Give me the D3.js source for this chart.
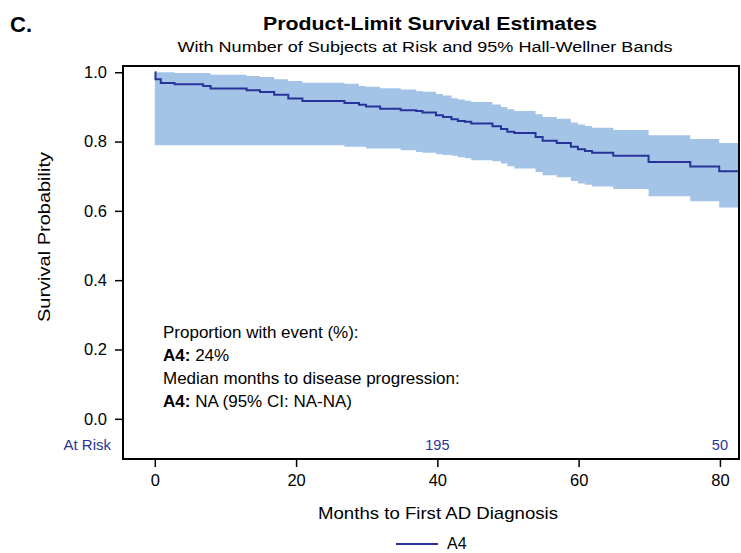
<!DOCTYPE html>
<html><head><meta charset="utf-8">
<script src="https://cdn.jsdelivr.net/npm/d3@7"></script>
<style>body{margin:0;background:#fff}svg text{font-family:"Liberation Sans",Arial,sans-serif}</style>
</head><body><svg id="c" width="741" height="553"></svg>
<script>
const months = [0, 0.1, 0.85, 2.8, 6.85, 7.9, 13.0, 14.9, 16.9, 18.9, 20.9, 26.85, 28.9, 29.9, 31.9, 34.8, 37.0, 37.9, 39.8, 40.8, 42.0, 42.9, 43.9, 44.8, 47.8, 49.0, 49.9, 50.9, 53.9, 54.9, 56.9, 58.9, 59.9, 60.9, 61.9, 64.9, 69.9, 75.8, 79.9];
const survival = [1.0, 0.980, 0.969, 0.965, 0.960, 0.953, 0.948, 0.943, 0.935, 0.924, 0.917, 0.911, 0.906, 0.901, 0.895, 0.890, 0.888, 0.884, 0.876, 0.871, 0.864, 0.859, 0.857, 0.852, 0.844, 0.836, 0.828, 0.825, 0.813, 0.802, 0.796, 0.785, 0.778, 0.773, 0.768, 0.759, 0.741, 0.728, 0.714];
const upperBand = [1.0, 1.0, 1.0, 0.998, 0.998, 0.993, 0.989, 0.986, 0.980, 0.975, 0.970, 0.967, 0.960, 0.958, 0.954, 0.950, 0.946, 0.944, 0.937, 0.933, 0.925, 0.921, 0.918, 0.914, 0.907, 0.900, 0.893, 0.888, 0.879, 0.871, 0.866, 0.855, 0.849, 0.845, 0.840, 0.833, 0.818, 0.807, 0.796];
const lowerBand = [0.789, 0.789, 0.789, 0.789, 0.789, 0.789, 0.789, 0.789, 0.789, 0.789, 0.789, 0.785, 0.785, 0.780, 0.780, 0.775, 0.770, 0.768, 0.763, 0.761, 0.759, 0.755, 0.752, 0.746, 0.743, 0.737, 0.729, 0.722, 0.712, 0.703, 0.697, 0.686, 0.679, 0.675, 0.670, 0.663, 0.642, 0.628, 0.610];
const xTicks = [0, 20, 40, 60, 80];
const yTicks = [0.0, 0.2, 0.4, 0.6, 0.8, 1.0];
const atRiskMonths = [40, 80];
const atRiskCounts = [195, 50];
const seriesName = "A4";

const svg = d3.select("#c");
const L = 123, R = 739, T = 66, B = 459;
const x = d3.scaleLinear().domain([-4.5, 82.7]).range([L, R]);
const y = d3.scaleLinear().domain([-0.116, 1.018]).range([B, T]);
const navy = "#28339a", bandFill = "#a3c4e7";

const pts = months.map((m, i) => ({m, s: survival[i], u: upperBand[i], l: lowerBand[i]}));
const last = pts[pts.length - 1];
pts.push({m: x.domain()[1], s: last.s, u: last.u, l: last.l});

svg.append("clipPath").attr("id", "clip").append("rect")
  .attr("x", L).attr("y", T).attr("width", R - L).attr("height", B - T);
const g = svg.append("g").attr("clip-path", "url(#clip)");
g.append("path").datum(pts)
  .attr("d", d3.area().curve(d3.curveStepAfter).x(d => x(d.m)).y0(d => y(d.l)).y1(d => y(d.u)))
  .attr("fill", bandFill);
g.append("path").datum(pts)
  .attr("d", d3.line().curve(d3.curveStepAfter).x(d => x(d.m)).y(d => y(d.s)))
  .attr("fill", "none").attr("stroke", navy).attr("stroke-width", 2);

// frame
svg.append("rect").attr("x", L).attr("y", T).attr("width", R - L).attr("height", B - T)
  .attr("fill", "none").attr("stroke", "#000").attr("stroke-width", 2);

// axes
const yAxis = svg.append("g").attr("transform", `translate(${L},0)`)
  .call(d3.axisLeft(y).tickValues(yTicks).tickFormat(d3.format(".1f")).tickSize(8).tickPadding(8));
const xAxis = svg.append("g").attr("transform", `translate(0,${B})`)
  .call(d3.axisBottom(x).tickValues(xTicks).tickSize(8).tickPadding(7));
[yAxis, xAxis].forEach(a => {
  a.select(".domain").remove();
  a.selectAll(".tick line").attr("stroke", "#000").attr("stroke-width", 1.5);
  a.selectAll("text").attr("font-size", 16.5).attr("fill", "#000")
    .attr("font-family", '"Liberation Sans", Arial, sans-serif');
});

// at risk
svg.append("text").attr("x", 111).attr("y", 450).attr("text-anchor", "end")
  .attr("font-size", 15).attr("fill", navy).text("At Risk");
svg.selectAll(".ar").data(atRiskMonths).join("text")
  .attr("x", d => x(d)).attr("y", 450).attr("text-anchor", "middle")
  .attr("font-size", 14.5).attr("fill", navy).text((d, i) => atRiskCounts[i]);

// titles
const stretch = (sel, len) => sel.attr("textLength", len).attr("lengthAdjust", "spacingAndGlyphs");
svg.append("text").attr("x", 10).attr("y", 32).attr("font-size", 22).attr("font-weight", "bold").text("C.");
svg.append("text").attr("x", 430).attr("y", 30).attr("text-anchor", "middle")
  .attr("font-size", 18).attr("font-weight", "bold").text("Product-Limit Survival Estimates")
  .call(stretch, 334);
svg.append("text").attr("x", 425).attr("y", 52).attr("text-anchor", "middle")
  .attr("font-size", 15.5).text("With Number of Subjects at Risk and 95% Hall-Wellner Bands")
  .call(stretch, 495);
svg.append("text").attr("transform", "translate(50,237) rotate(-90)").attr("text-anchor", "middle")
  .attr("font-size", 17).text("Survival Probability").call(stretch, 170);
svg.append("text").attr("x", 438).attr("y", 519).attr("text-anchor", "middle")
  .attr("font-size", 17).text("Months to First AD Diagnosis").call(stretch, 240);

// annotation
const ann = svg.append("g").attr("font-size", 17);
ann.append("text").attr("x", 163).attr("y", 338).text("Proportion with event (%):");
const a2 = ann.append("text").attr("x", 163).attr("y", 361);
a2.append("tspan").attr("font-weight", "bold").text(seriesName + ":");
a2.append("tspan").text(" 24%");
ann.append("text").attr("x", 163).attr("y", 384).text("Median months to disease progression:");
const a4 = ann.append("text").attr("x", 163).attr("y", 407);
a4.append("tspan").attr("font-weight", "bold").text(seriesName + ":");
a4.append("tspan").text(" NA (95% CI: NA-NA)");

// legend
svg.append("line").attr("x1", 396).attr("x2", 438).attr("y1", 544).attr("y2", 544)
  .attr("stroke", navy).attr("stroke-width", 2);
svg.append("text").attr("x", 447).attr("y", 549).attr("font-size", 16).text(seriesName);
</script></body></html>
